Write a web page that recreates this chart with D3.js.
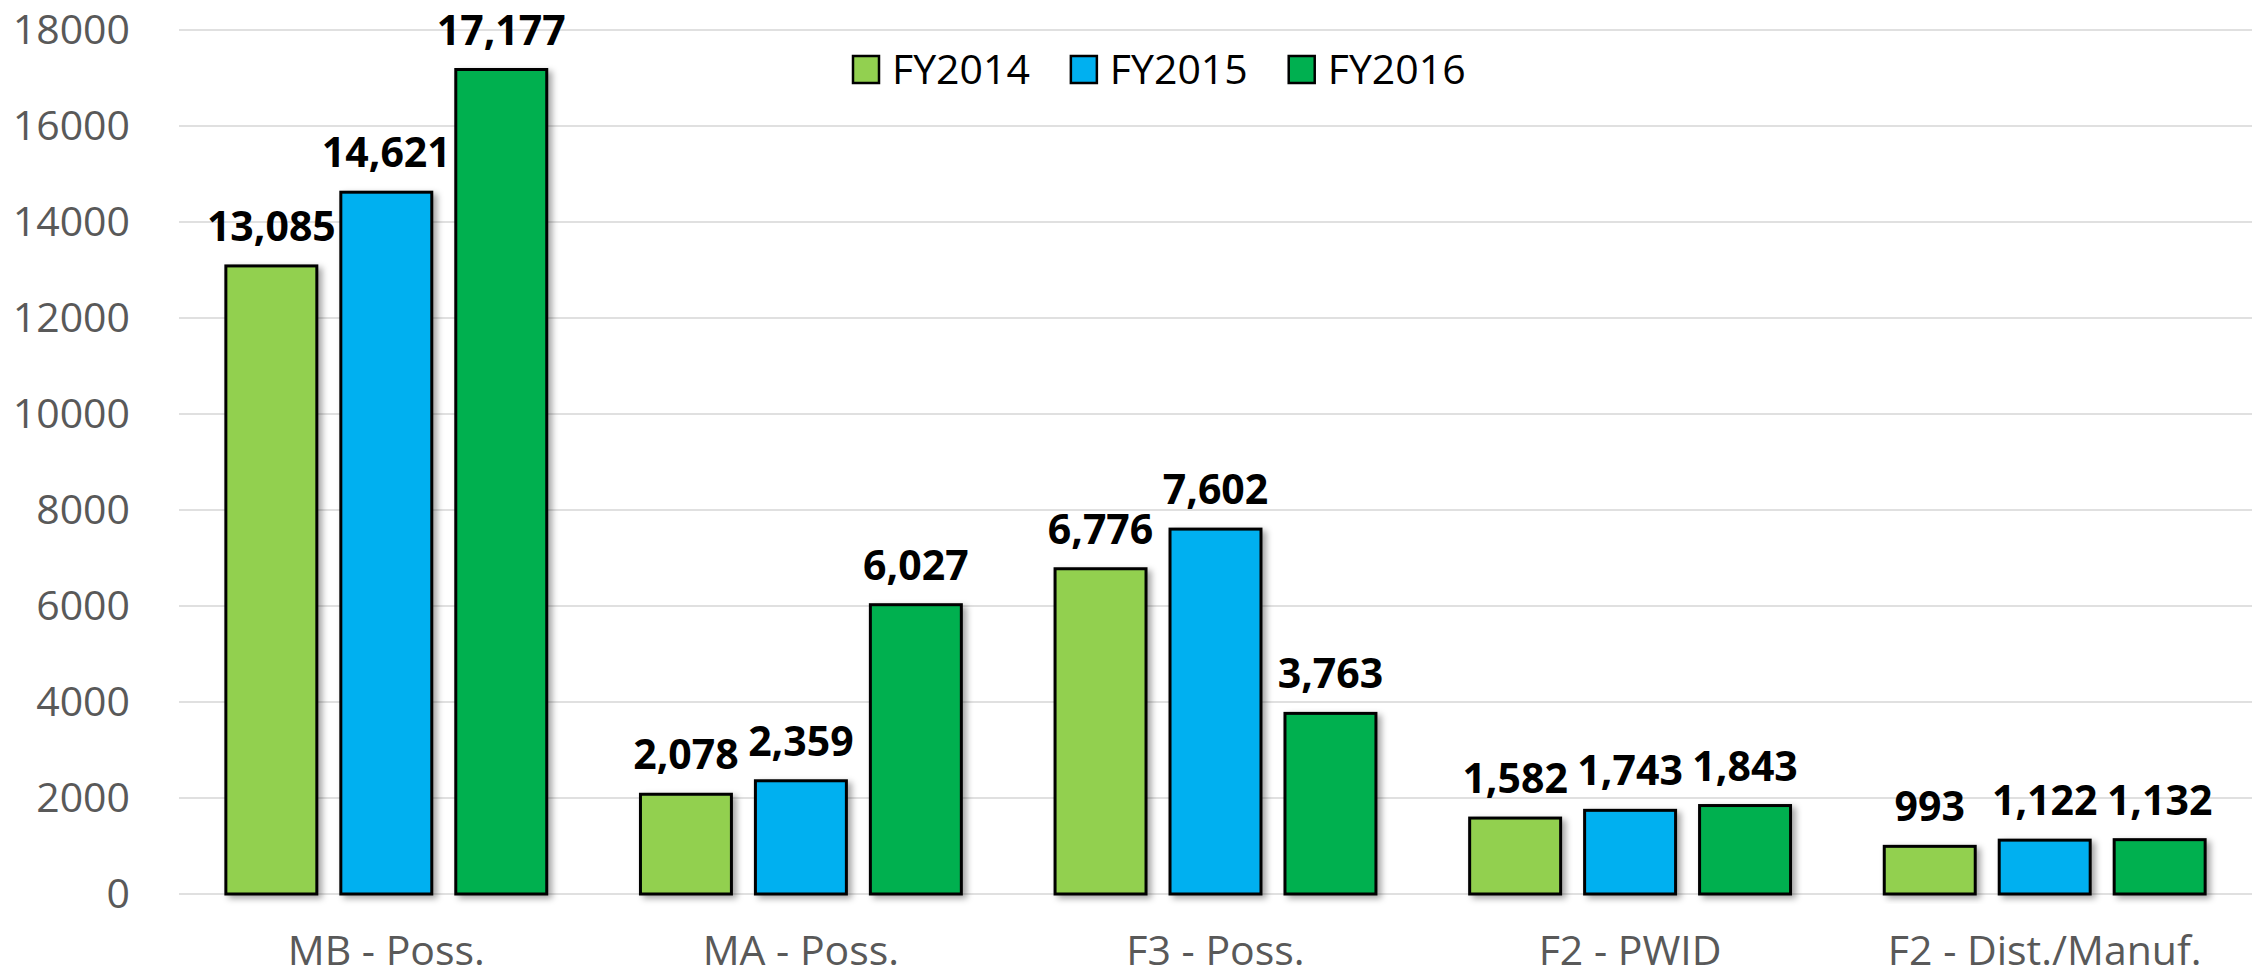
<!DOCTYPE html>
<html>
<head>
<meta charset="utf-8">
<script src="https://cdn.jsdelivr.net/npm/d3@7"></script>
<style>
  body { margin: 0; background: #fff; }
  svg { display: block; font-family: "Open Sans", "Noto Sans", sans-serif; }
</style>
</head>
<body>
<script>
const categories = ["MB - Poss.", "MA - Poss.", "F3 - Poss.", "F2 - PWID", "F2 - Dist./Manuf."];
const seriesNames = ["FY2014", "FY2015", "FY2016"];
const fy2014 = [13085, 2078, 6776, 1582, 993];
const fy2015 = [14621, 2359, 7602, 1743, 1122];
const fy2016 = [17177, 6027, 3763, 1843, 1132];
const yTicks = [0, 2000, 4000, 6000, 8000, 10000, 12000, 14000, 16000, 18000];
const colors = ["#92D050", "#00B0F0", "#00B050"];

const W = 2257, H = 977;
const margin = { top: 30, right: 5, bottom: 83, left: 179 };

const svg = d3.select("body")
  .append("svg")
  .attr("width", W)
  .attr("height", H);

// soft shadow like the office chart
const defs = svg.append("defs");
const f = defs.append("filter")
  .attr("id", "shadow")
  .attr("x", "-10%").attr("y", "-10%")
  .attr("width", "130%").attr("height", "130%");
f.append("feDropShadow")
  .attr("dx", 4).attr("dy", 3)
  .attr("stdDeviation", 3)
  .attr("flood-color", "#000")
  .attr("flood-opacity", 0.35);

const data = categories.map((c, i) => ({
  cat: c,
  values: [fy2014[i], fy2015[i], fy2016[i]].map((v, j) => ({ key: seriesNames[j], value: v }))
}));

const x0 = d3.scaleBand()
  .domain(categories)
  .range([margin.left, W - margin.right])
  .paddingInner(0)
  .paddingOuter(0);

const x1 = d3.scaleBand()
  .domain(seriesNames)
  .range([0, x0.bandwidth()])
  .paddingInner(0.2087)
  .paddingOuter(0.4076);

const y = d3.scaleLinear()
  .domain([0, 18000])
  .range([H - margin.bottom, margin.top]);

const color = d3.scaleOrdinal()
  .domain(seriesNames)
  .range(colors);

// gridlines
svg.append("g")
  .selectAll("line")
  .data(yTicks)
  .enter()
  .append("line")
  .attr("x1", margin.left)
  .attr("x2", W - margin.right)
  .attr("y1", d => y(d))
  .attr("y2", d => y(d))
  .attr("stroke", "#e0e0e0")
  .attr("stroke-width", 2);

// y axis labels
const yAxis = svg.append("g")
  .attr("transform", `translate(${margin.left - 49},0)`)
  .call(d3.axisLeft(y).tickValues(yTicks).tickFormat(d3.format("d")).tickSize(0).tickPadding(0));
yAxis.select(".domain").remove();
yAxis.selectAll("text")
  .attr("fill", "#595959")
  .style("font-size", "41px")
  .style("font-family", "'Open Sans', sans-serif");

// x axis labels
const xAxis = svg.append("g")
  .attr("transform", `translate(0,${y(0)})`)
  .call(d3.axisBottom(x0).tickSize(0).tickPadding(0));
xAxis.select(".domain").remove();
xAxis.selectAll("text")
  .attr("dy", null)
  .attr("y", 71)
  .attr("fill", "#595959")
  .style("font-size", "41px")
  .style("font-family", "'Open Sans', sans-serif");

// bars
const groups = svg.selectAll(".grp")
  .data(data)
  .enter()
  .append("g")
  .attr("class", "grp")
  .attr("transform", d => `translate(${x0(d.cat)},0)`);

groups.selectAll("rect")
  .data(d => d.values)
  .enter()
  .append("rect")
  .attr("x", d => x1(d.key))
  .attr("y", d => y(d.value))
  .attr("width", x1.bandwidth())
  .attr("height", d => y(0) - y(d.value))
  .attr("fill", d => color(d.key))
  .attr("stroke", "#000")
  .attr("stroke-width", 3)
  .attr("filter", "url(#shadow)");

// value labels
groups.selectAll(".lbl")
  .data(d => d.values)
  .enter()
  .append("text")
  .attr("class", "lbl")
  .attr("x", d => x1(d.key) + x1.bandwidth() / 2)
  .attr("y", d => y(d.value) - 25)
  .attr("text-anchor", "middle")
  .style("font-size", "41px")
  .style("font-weight", "bold")
  .attr("fill", "#000")
  .text(d => d3.format(",")(d.value));

// legend
const legend = svg.append("g").attr("class", "legend");
let lx = 853;
seriesNames.forEach(name => {
  const g = legend.append("g").attr("transform", `translate(${lx},0)`);
  g.append("rect")
    .attr("x", 0)
    .attr("y", 56)
    .attr("width", 26)
    .attr("height", 27)
    .attr("fill", color(name))
    .attr("stroke", "#000")
    .attr("stroke-width", 2.5);
  const t = g.append("text")
    .attr("x", 39)
    .attr("y", 84)
    .style("font-size", "41px")
    .attr("fill", "#000")
    .text(name);
  lx += 39 + t.node().getComputedTextLength() + 41;
});
</script>
</body>
</html>
